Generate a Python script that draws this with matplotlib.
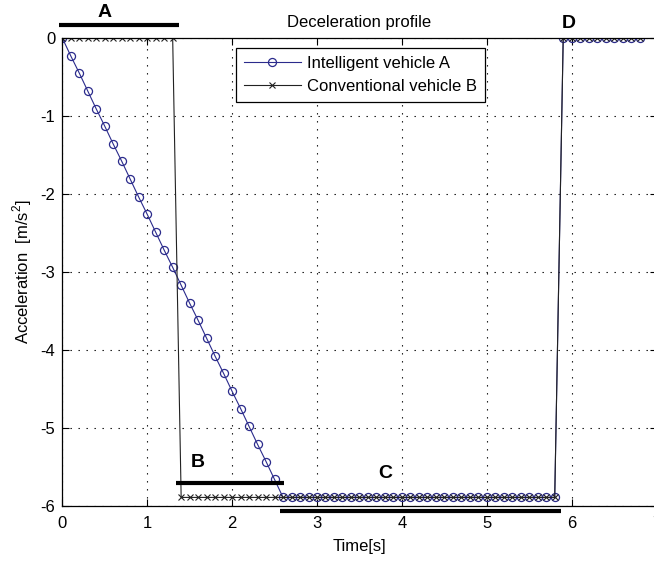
import numpy as np
import matplotlib
matplotlib.use("Agg")
import matplotlib.pyplot as plt

plt.rcParams['font.family'] = ['Liberation Sans', 'DejaVu Sans']
plt.rcParams['axes.unicode_minus'] = False
plt.rcParams['mathtext.fontset'] = 'custom'
plt.rcParams['mathtext.rm'] = 'Liberation Sans'

# time samples [s]
t = [0.0, 0.1, 0.2, 0.3, 0.4, 0.5, 0.6, 0.7, 0.8, 0.9,
     1.0, 1.1, 1.2, 1.3, 1.4, 1.5, 1.6, 1.7, 1.8, 1.9,
     2.0, 2.1, 2.2, 2.3, 2.4, 2.5, 2.6, 2.7, 2.8, 2.9,
     3.0, 3.1, 3.2, 3.3, 3.4, 3.5, 3.6, 3.7, 3.8, 3.9,
     4.0, 4.1, 4.2, 4.3, 4.4, 4.5, 4.6, 4.7, 4.8, 4.9,
     5.0, 5.1, 5.2, 5.3, 5.4, 5.5, 5.6, 5.7, 5.8, 5.9,
     6.0, 6.1, 6.2, 6.3, 6.4, 6.5, 6.6, 6.7, 6.8]

# intelligent vehicle A [m/s^2]
acc_a = [0.00, -0.23, -0.45, -0.68, -0.91, -1.13, -1.36, -1.58, -1.81, -2.04,
         -2.26, -2.49, -2.72, -2.94, -3.17, -3.40, -3.62, -3.85, -4.08, -4.30,
         -4.53, -4.75, -4.98, -5.21, -5.43, -5.66, -5.89, -5.89, -5.89, -5.89,
         -5.89, -5.89, -5.89, -5.89, -5.89, -5.89, -5.89, -5.89, -5.89, -5.89,
         -5.89, -5.89, -5.89, -5.89, -5.89, -5.89, -5.89, -5.89, -5.89, -5.89,
         -5.89, -5.89, -5.89, -5.89, -5.89, -5.89, -5.89, -5.89, -5.89, 0.00,
         0.00, 0.00, 0.00, 0.00, 0.00, 0.00, 0.00, 0.00, 0.00]

# conventional vehicle B [m/s^2]
acc_b = [0.00, 0.00, 0.00, 0.00, 0.00, 0.00, 0.00, 0.00, 0.00, 0.00,
         0.00, 0.00, 0.00, 0.00, -5.89, -5.89, -5.89, -5.89, -5.89, -5.89,
         -5.89, -5.89, -5.89, -5.89, -5.89, -5.89, -5.89, -5.89, -5.89, -5.89,
         -5.89, -5.89, -5.89, -5.89, -5.89, -5.89, -5.89, -5.89, -5.89, -5.89,
         -5.89, -5.89, -5.89, -5.89, -5.89, -5.89, -5.89, -5.89, -5.89, -5.89,
         -5.89, -5.89, -5.89, -5.89, -5.89, -5.89, -5.89, -5.89, -5.89, 0.00,
         0.00, 0.00, 0.00, 0.00, 0.00, 0.00, 0.00, 0.00, 0.00]

# phase markers: label, bar start, bar end, bar level, label x, label y
phase_names = ['A', 'B', 'C', 'D']
bar_start = [-0.04, 1.34, 2.56, None]
bar_end = [1.37, 2.61, 5.87, None]
bar_level = [0.17, -5.71, -6.07, None]
label_x = [0.5, 1.6, 3.8, 5.96]
label_y = [0.33, -5.44, -5.58, 0.18]

fig = plt.figure(figsize=(6.54, 5.66), dpi=100)
ax = fig.add_axes([62.3 / 654, 60 / 566, 594.3 / 654, 468 / 566])

ax.plot(t, acc_a, color='#2b2b8c', lw=0.8, marker='o', ms=5.8, mfc='none',
        mec='#2b2b8c', mew=0.9, label='Intelligent vehicle A')
ax.plot(t, acc_b, color='#222222', lw=0.8, marker='x', ms=4, mew=0.8,
        label='Conventional vehicle B')

for name, x0, x1, yb, lx, ly in zip(phase_names, bar_start, bar_end, bar_level, label_x, label_y):
    if x0 is not None:
        ax.plot([x0, x1], [yb, yb], color='k', lw=3, clip_on=False, solid_capstyle='butt')
    ax.text(lx, ly, name, fontsize=14, fontweight='bold', ha='center', va='center',
            clip_on=False)

ax.set_xlim(0, 7)
ax.set_ylim(-6, 0)
ax.set_xticks(range(0, 8))
ax.set_yticks(range(-6, 1))
ax.tick_params(direction='in', length=5, top=True, right=True, labelsize=12, width=0.8)
ax.tick_params(axis='x', pad=7)
ax.tick_params(axis='y', pad=5)
ax.grid(True, color='k', lw=0.8, linestyle=(0, (1.2, 6)))
for s in ax.spines.values():
    s.set_linewidth(0.9)

ax.text(0.5, 1 + 16 / 468, 'Deceleration profile', transform=ax.transAxes,
        ha='center', va='center', fontsize=12)
ax.set_xlabel('Time[s]', fontsize=12, labelpad=6)
ax.set_ylabel(r'Acceleration  [m/s$^{\mathrm{2}}$]', fontsize=12, labelpad=5)

leg = ax.legend(loc='upper left', bbox_to_anchor=(0.293, 0.978), fontsize=12,
                handlelength=3.4, handletextpad=0.4, borderpad=0.45,
                labelspacing=0.5, borderaxespad=0, fancybox=False, framealpha=1)
leg.get_frame().set_edgecolor('k')
leg.get_frame().set_linewidth(0.9)

fig.savefig('out.png', dpi=100)
